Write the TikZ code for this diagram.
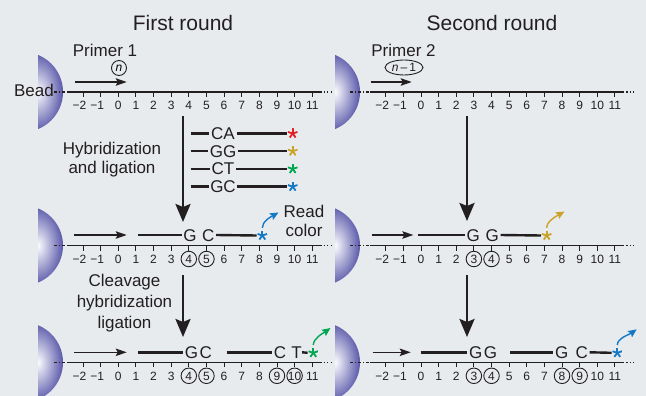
\documentclass[tikz,border=0pt]{standalone}
\usepackage{fontspec}
\setmainfont{Liberation Sans}
\usetikzlibrary{arrows.meta,shapes.geometric}

\definecolor{bg}{HTML}{E8EBEE}
\definecolor{ink}{HTML}{231F20}
\definecolor{beaddark}{RGB}{30,28,138}
\definecolor{beadlight}{RGB}{252,252,255}
\definecolor{sred}{HTML}{E31E24}
\definecolor{sgold}{HTML}{C9A227}
\definecolor{sgreen}{HTML}{00A651}
\definecolor{sblue}{HTML}{1479C4}

% spacing of the positions on a template line
\newcommand\stp{17.63}

% numbered template line: #1 name prefix, #2 x of position 0, #3 height, #4 start of the dotted lead-in
\newcommand\numline[4]{%
  \coordinate (#1d) at (#4,#3);
  \coordinate (#1s) at ({#2-51.3},#3);
  \coordinate (#1e) at ({#2+202},#3);
  \coordinate (#1f) at ({#2+214},#3);
  \draw[axisdash] (#1d) -- (#1s);
  \draw[axisline] (#1s) -- (#1e);
  \draw[axisdots] (#1e) -- (#1f);
  \foreach \k [count=\i] in {-2,...,11}{
    \coordinate (#1k\i) at ({#2+(\k)*\stp},#3);
    \draw[tickmark] (#1k\i) -- ++(0,5);
    \node[ticklab] (#1n\i) at ({#2+(\k)*\stp},{#3+13.5})
      {\ifnum\k<0 \llap{−}\number-\k\else\k\fi};
  }%
}

% shaded bead: #1 name, #2 x of its right edge, #3 height of its centre
\newcommand\beadshape[3]{%
  \begin{scope}
    \clip ({#2-25},{#3-45}) rectangle ({#2+1},{#3+45});
    \clip ({#2-40},#3) circle (40);
    \shade[inner color=beadlight, outer color=beaddark] ({#2-25},#3) ellipse (34 and 54);
  \end{scope}
  \coordinate (#1) at (#2,#3);
}

% ring round a position label: #1 line prefix, #2 label index
\newcommand\ringlab[2]{\node[ring] (#1o#2) at (#1n#2) {};}

\begin{document}
\begin{tikzpicture}[x=1pt,y=-1pt,
  txt/.style={font=\fontsize{17}{19}\selectfont, text=ink, inner sep=0pt},
  ttl/.style={font=\fontsize{21}{24}\selectfont, text=ink, inner sep=0pt},
  ticklab/.style={font=\fontsize{12}{13}\selectfont, text=ink, inner sep=0pt,
    text height=8.6pt, text depth=0pt},
  ring/.style={circle, draw=ink, line width=0.9pt, minimum size=15.5pt, inner sep=0pt},
  letter/.style={txt, inner sep=1.5pt, text height=12pt, text depth=0pt},
  strand/.style={draw=ink, line width=2.4pt},
  axisline/.style={draw=ink, line width=1.2pt},
  axisdash/.style={draw=ink, line width=1.2pt, dash pattern=on 3pt off 2pt on 1pt off 2pt},
  axisdots/.style={draw=ink, line width=1.2pt, dash pattern=on 1.2pt off 2.2pt},
  tickmark/.style={draw=ink, line width=0.9pt},
  primer/.style={draw=ink, line width=1.3pt, -{Stealth[length=11pt,width=7.5pt,inset=2pt]}},
  bigarrow/.style={draw=ink, line width=2.6pt, -{Stealth[length=18pt,width=15pt,inset=3pt]}},
  readarrow/.style={line width=1.4pt, -{Stealth[length=8.5pt,width=7.5pt,inset=1.5pt]}},
  asterisk/.style={circle, minimum size=11pt, inner sep=0pt,
    path picture={\foreach \a in {-90,-18,54,126,198}
      \draw[line width=1.8pt, #1] (path picture bounding box.center) -- ++(\a:5);}}
]
\useasboundingbox[fill=bg] (0,0) rectangle (646,396);

% beads
\beadshape{beadA}{63}{92}
\beadshape{beadB}{360}{92}
\beadshape{beadC}{63}{245.5}
\beadshape{beadD}{360}{245.5}
\beadshape{beadE}{63}{362.3}
\beadshape{beadF}{360}{362.3}

% template lines
\numline{ra}{118.3}{92}{54}
\numline{rb}{421}{92}{350}
\numline{rc}{118.3}{245.5}{54}
\numline{rd}{421}{245.5}{350}
\numline{re}{118.3}{362.3}{54}
\numline{rf}{421}{362.3}{350}

% ringed positions
\ringlab{rc}{7}\ringlab{rc}{8}
\ringlab{rd}{6}\ringlab{rd}{7}
\ringlab{re}{7}\ringlab{re}{8}\ringlab{re}{12}\ringlab{re}{13}
\ringlab{rf}{6}\ringlab{rf}{7}\ringlab{rf}{11}\ringlab{rf}{12}

% headings and labels
\node[ttl,anchor=base] (title1) at (183,31) {First round};
\node[ttl,anchor=base] (title2) at (492,31) {Second round};
\node[txt,anchor=base] (primer1) at (105,56.5) {Primer 1};
\node[txt,anchor=base] (primer2) at (403.5,56.5) {Primer 2};
\node[txt,anchor=base east] (beadlabel) at (54,97) {Bead};

\node[ring, minimum size=15pt, font=\fontsize{12}{12}\selectfont] (nA) at (119,68) {\textit{n}};
\node[ellipse, draw=ink, line width=0.9pt, minimum width=38pt, minimum height=15pt,
  inner sep=0pt, text=ink, font=\fontsize{12}{12}\selectfont] (nB) at (404,67.5) {\textit{n}\,–\,1};

\node[txt, align=center, anchor=north, font=\fontsize{17}{19.5}\selectfont] (hyb) at (112,141.5)
  {Hybridization\\and ligation};
\node[txt, align=center, anchor=north, font=\fontsize{17}{19}\selectfont] (readcol) at (304,204.5)
  {Read\\color};
\node[txt, align=center, anchor=north, font=\fontsize{17}{21}\selectfont] (cleave) at (124.5,274)
  {Cleavage\\hybridization\\ligation};

% primers
\coordinate (paA) at (75,82);    \coordinate (pbA) at (126.7,82);
\coordinate (paB) at (370.7,82); \coordinate (pbB) at (411.7,82);
\coordinate (paC) at (74,235);   \coordinate (pbC) at (126.7,235);
\coordinate (paD) at (371.7,235);\coordinate (pbD) at (413.3,235);
\coordinate (paE) at (74,352.3); \coordinate (pbE) at (126.7,352.3);
\coordinate (paF) at (372.7,352.3);\coordinate (pbF) at (410.7,352.3);
\foreach \p in {A,B,C,D,E,F} \draw[primer] (pa\p) -- (pb\p);

% probe set
\foreach \t/\c/\y [count=\i] in {CA/sred/133.5, GG/sgold/151.2, CT/sgreen/168.9, GC/sblue/186.6}{
  \node[letter] (probe\i) at (223,\y) {\t};
  \coordinate (probeL\i) at (190.7,\y);
  \node[asterisk=\c] (probestar\i) at (292.7,\y) {};
  \draw[strand] (probeL\i) -- (probe\i.west);
  \draw[strand] (probe\i.east) -- (probestar\i.west);
}

% process arrows
\coordinate (ar1a) at (183,116); \coordinate (ar1b) at (183,222);
\coordinate (ar2a) at (183,275); \coordinate (ar2b) at (183,337);
\coordinate (ar3a) at (467,116); \coordinate (ar3b) at (467,221);
\coordinate (ar4a) at (467,275); \coordinate (ar4b) at (467,337);
\draw[bigarrow] (ar1a) -- (ar1b);
\draw[bigarrow] (ar2a) -- (ar2b);
\draw[bigarrow] (ar3a) -- (ar3b);
\draw[bigarrow] (ar4a) -- (ar4b);

% first round, first ligation
\coordinate (sC1) at (137.7,235);
\node[letter] (gC1) at (190,235) {G};
\node[letter] (cC1) at (208.3,235) {C};
\node[asterisk=sblue] (starC) at (262.3,235.5) {};
\draw[strand] (sC1) -- (gC1.west);
\draw[strand] (cC1.east) -- (starC.west);
\coordinate (endC) at (278.5,212.5);
\draw[readarrow, sblue, shorten <=2pt] (starC.north) .. controls +(0,-9) and +(-7,4) .. (endC);

% second round, first ligation
\coordinate (sD1) at (418,235);
\node[letter] (gD1) at (473.3,235) {G};
\node[letter] (gD2) at (492.3,235) {G};
\node[asterisk=sgold] (starD) at (546.7,235.5) {};
\draw[strand] (sD1) -- (gD1.west);
\draw[strand] (gD2.east) -- (starD.west);
\coordinate (endD) at (564.5,211.5);
\draw[readarrow, sgold, shorten <=2pt] (starD.north) .. controls +(0,-9) and +(-7,4) .. (endD);

% first round, second ligation
\coordinate (sE1) at (137.7,352.3);
\coordinate (sE2) at (226.7,352.3);
\node[letter] (gcE) at (198.3,352.3) {G\kern1.5pt C};
\node[letter] (cE2) at (280,352.3) {C};
\node[letter, inner sep=0.2pt] (tE2) at (296.5,352.3) {T};
\node[asterisk=sgreen] (starE) at (313.3,352.8) {};
\draw[strand] (sE1) -- (gcE.west);
\draw[strand] (sE2) -- (cE2.west);
\draw[strand] (tE2.east) -- (starE.west);
\coordinate (endE) at (330.5,328);
\draw[readarrow, sgreen, shorten <=2pt] (starE.north) .. controls +(0,-9) and +(-7,5) .. (endE);

% second round, second ligation
\coordinate (sF1) at (420.7,352.3);
\coordinate (sF2) at (510,352.3);
\node[letter] (ggF) at (483,352.3) {G\kern1.5pt G};
\node[letter] (gF3) at (561.7,352.3) {G};
\node[letter] (cF3) at (581.7,352.3) {C};
\node[asterisk=sblue] (starF) at (617.3,352.8) {};
\draw[strand] (sF1) -- (ggF.west);
\draw[strand] (sF2) -- (gF3.west);
\draw[strand] (cF3.east) -- (starF.west);
\coordinate (endF) at (636.7,329.3);
\draw[readarrow, sblue, shorten <=2pt] (starF.north) .. controls +(0,-9) and +(-7,5) .. (endF);
\end{tikzpicture}
\end{document}
